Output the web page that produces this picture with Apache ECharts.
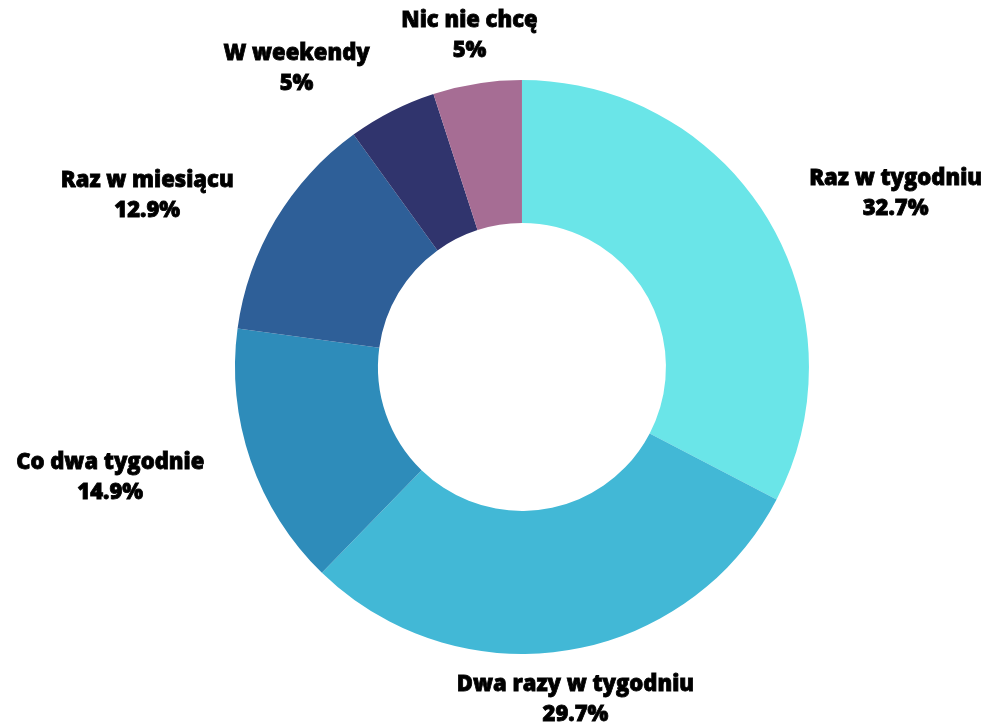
<!DOCTYPE html>
<html>
<head>
<meta charset="utf-8">
<style>
  html, body { margin: 0; padding: 0; background: #ffffff; }
  #chart { width: 991px; height: 725px; }
</style>
<script src="https://cdn.jsdelivr.net/npm/echarts@6/dist/echarts.min.js"></script>
</head>
<body>
<div id="chart"></div>
<script>
const categories = ['Raz w tygodniu', 'Dwa razy w tygodniu', 'Co dwa tygodnie', 'Raz w miesiącu', 'W weekendy', 'Nic nie chcę'];
const values = [32.7, 29.7, 14.9, 12.9, 5, 5];
const colors = ['#6ae5e8', '#42b8d6', '#2e8cba', '#2e5f98', '#30346d', '#a66d94'];

const CENTER_X = 0.5267, CENTER_Y = 0.5062;
const OUTER_R = 287, INNER_R = 144, LABEL_R = 336;

const chart = echarts.init(document.getElementById('chart'), null, { renderer: 'canvas' });
const total = values.reduce((a, b) => a + b, 0);

function midAngle(i) {
  let s = 0;
  for (let j = 0; j < i; j++) s += values[j];
  return (s + values[i] / 2) / total * 2 * Math.PI;
}

const option = {
  backgroundColor: '#ffffff',
  animation: false,
  series: [{
    type: 'pie',
    center: [(CENTER_X * 100) + '%', (CENTER_Y * 100) + '%'],
    radius: [INNER_R, OUTER_R],
    startAngle: 90,
    clockwise: true,
    avoidLabelOverlap: false,
    data: categories.map((c, i) => ({ name: c, value: values[i], itemStyle: { color: colors[i] } })),
    itemStyle: { borderWidth: 0 },
    emphasis: { disabled: true },
    labelLine: { show: false },
    label: {
      show: true,
      position: 'outside',
      formatter: p => '{n|' + p.name + '}\n{n|' + p.value + '%}',
      rich: {
        n: {
          fontFamily: 'Open Sans',
          fontWeight: 800,
          fontSize: 22,
          lineHeight: 30,
          color: '#000000',
          textBorderColor: '#000000',
          textBorderWidth: 0.8,
          align: 'center'
        }
      }
    },
    labelLayout: function (p) {
      const a = midAngle(p.dataIndex);
      const sx = Math.sin(a), sy = -Math.cos(a);
      const cx = chart.getWidth() * CENTER_X, cy = chart.getHeight() * CENTER_Y;
      return {
        x: cx + LABEL_R * sx,
        y: cy + LABEL_R * sy + 1,
        align: Math.abs(sx) < 0.3 ? 'center' : (sx > 0 ? 'left' : 'right'),
        verticalAlign: 'middle'
      };
    }
  }]
};
chart.setOption(option);
</script>
</body>
</html>
